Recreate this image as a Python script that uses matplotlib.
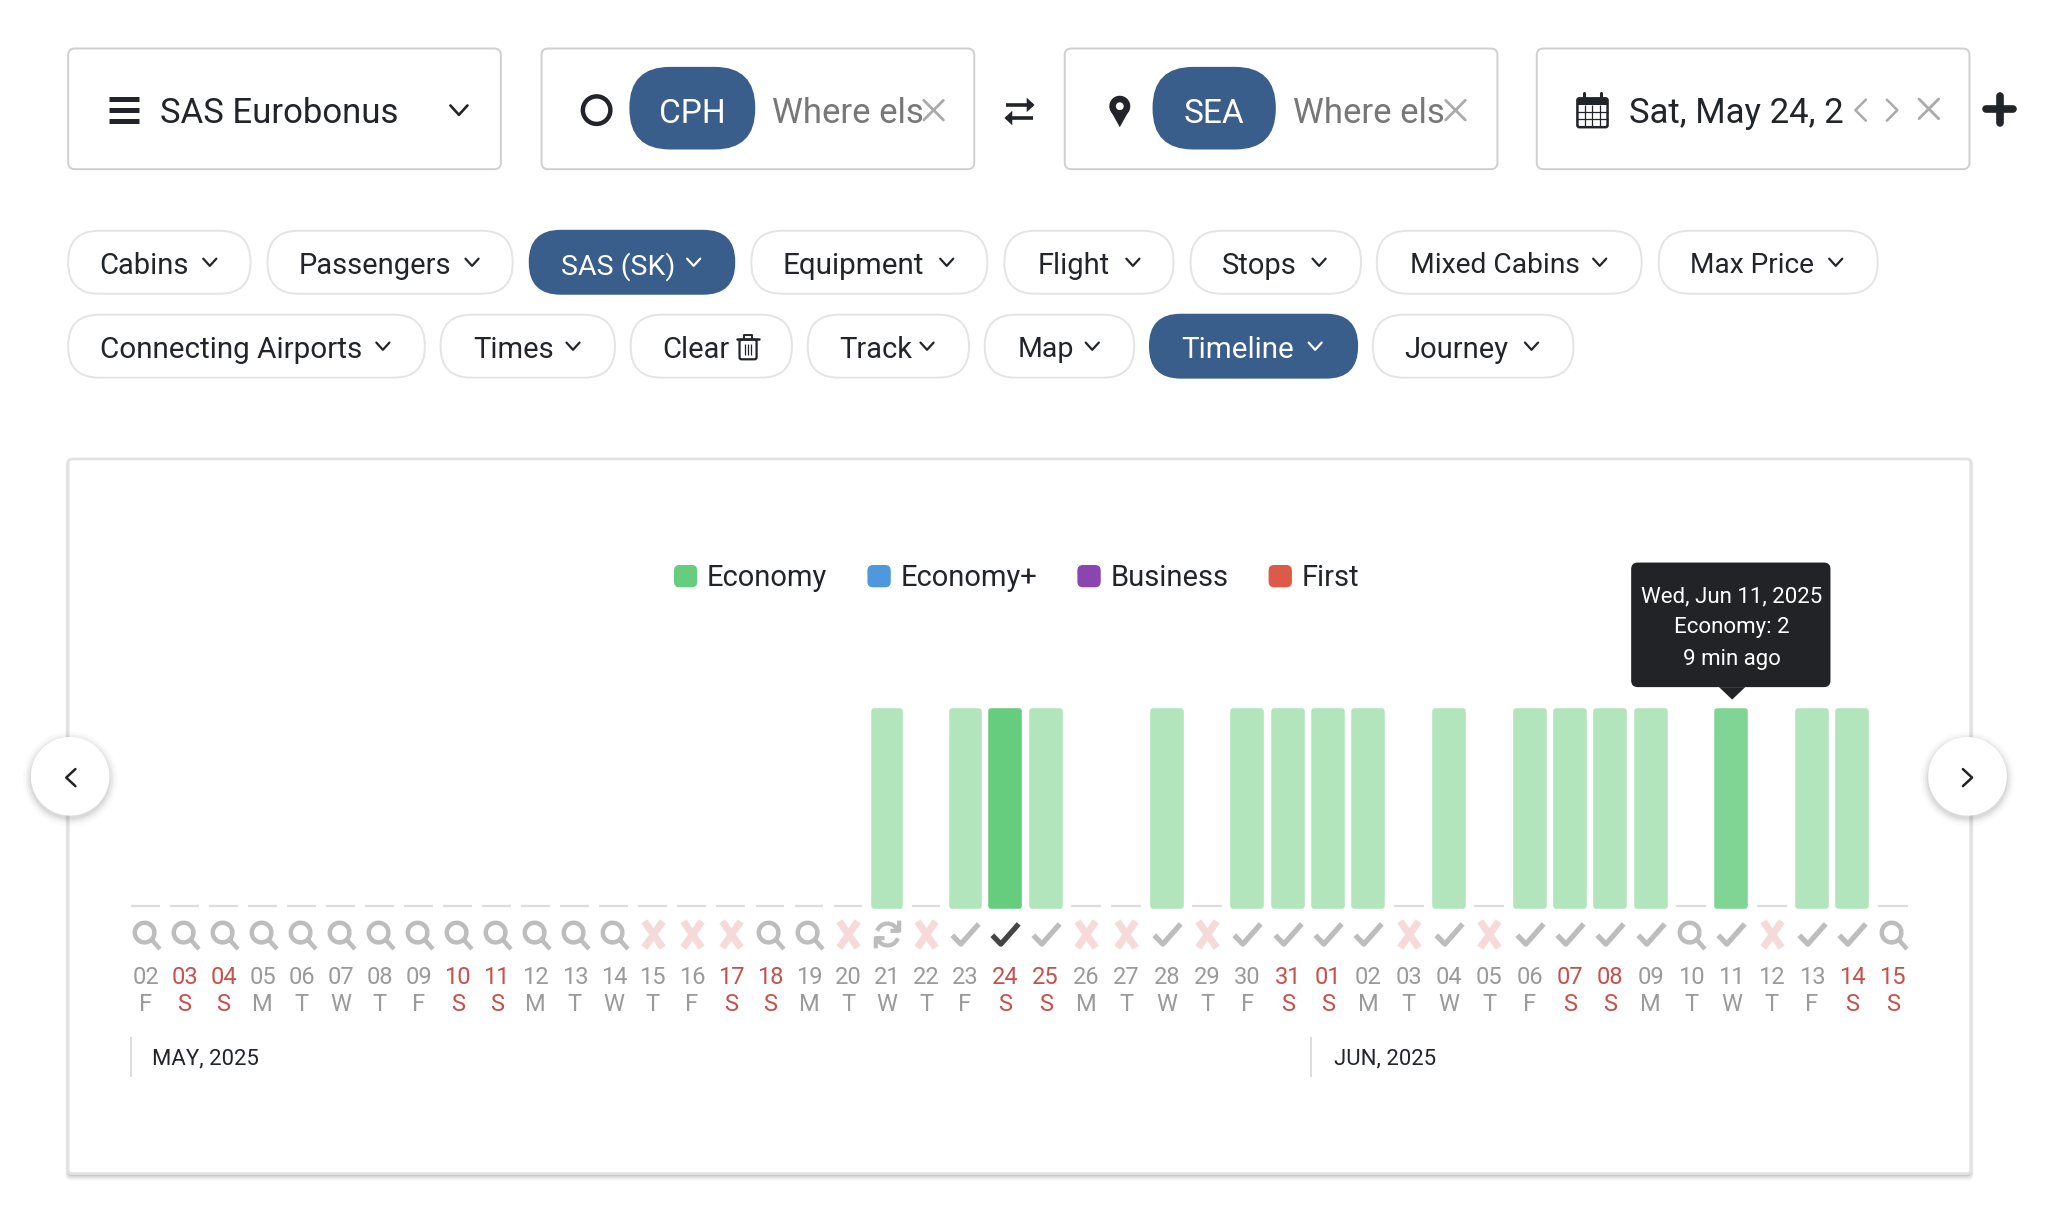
import numpy as np
import matplotlib
matplotlib.use("Agg")
import matplotlib.pyplot as plt
from matplotlib.patches import FancyBboxPatch, Circle, Polygon, Rectangle, Patch
from matplotlib.path import Path
from matplotlib.legend_handler import HandlerPatch

# ---------- data ----------
days = ["02","03","04","05","06","07","08","09","10","11","12","13","14","15","16","17","18","19","20","21","22","23",
        "24","25","26","27","28","29","30","31","01","02","03","04","05","06","07","08","09","10","11","12","13","14","15"]
weekdays = list("FSSMTWTFSSMTWTFSSMTWTFSSMTWTFSSMTWTFSSMTWTFSS")
economy = [0,0,0,0,0,0,0,0,0,0,0,0,0,0,0,0,0,0,0,1,0,1,
           1,1,0,0,1,0,1,1,1,1,0,1,0,1,1,1,1,0,1,0,1,1,0]
status = list("qqqqqqqqqqqqqxxxqqxrxc" "Ccxxcxccccxcxccccqcxccq")
cabins = ["Economy", "Economy+", "Business", "First"]
cabin_colors = ["#66CC7E", "#4F98DB", "#8A46AE", "#DE5A48"]
month_labels = ["MAY, 2025", "JUN, 2025"]
selected_day = 22
hover_day = 40
tooltip_lines = ["Wed, Jun 11, 2025", "Economy: 2", "9 min ago"]

W, H = 1568.0, 938.0   # layout units
FONT = "Roboto"
plt.rcParams["font.family"] = [FONT, "DejaVu Sans"]
fig = plt.figure(figsize=(20.56, 12.30), dpi=100, facecolor="white")
INK, BLUE = "#212529", "#3A5E8C"

def overlay(z):
    a = fig.add_axes([0, 0, 1, 1], zorder=z)
    a.set_xlim(0, W); a.set_ylim(H, 0); a.axis("off"); a.patch.set_alpha(0)
    return a

ui = overlay(0)
top = overlay(5)

def rbox(a, x0, y0, x1, y1, r, fc="white", ec="none", lw=1.0, alpha=None, z=2):
    p = FancyBboxPatch((x0, y0), x1-x0, y1-y0, boxstyle=f"round,pad=0,rounding_size={r}",
                       fc=fc, ec=ec, lw=lw, alpha=alpha, zorder=z)
    a.add_patch(p)
    return p

def txt(a, x, y, s, size, color=INK, ha="left", z=4):
    return a.text(x, y, s, fontsize=size, color=color, ha=ha, va="center_baseline", zorder=z)

def stroke(a, xs, ys, color=INK, lw=2.0, z=4, cap="round"):
    a.plot(xs, ys, color=color, lw=lw, solid_capstyle=cap, solid_joinstyle="round", zorder=z)

def chevron(a, x, y, color=INK, s=5.0, lw=1.6):
    stroke(a, [x-s, x, x+s], [y-s*0.55, y+s*0.55, y-s*0.55], color=color, lw=lw)

def cross(a, x, y, s=7.5, color="#AAAAAA", lw=1.8):
    stroke(a, [x-s, x+s], [y-s, y+s], color, lw)
    stroke(a, [x-s, x+s], [y+s, y-s], color, lw)

# ---------- top row ----------
for x0, x1 in [(52, 382), (413, 743), (812, 1142), (1172, 1502)]:
    rbox(ui, x0, 37, x1, 129, 5, fc="white", ec="#CFCFCF", lw=1.4)

for yy in (75.5, 84, 92.5):
    stroke(ui, [83, 106], [yy, yy], INK, 3.6, cap="butt")
txt(ui, 122, 84, "SAS Eurobonus", 25)
chevron(ui, 350, 84, s=6.5, lw=1.9)

ui.add_patch(Circle((455, 84), 10.5, fc="none", ec=INK, lw=3.2, zorder=4))
rbox(ui, 480, 51, 576, 114, 31, fc=BLUE)
txt(ui, 528, 84, "CPH", 24, "white", "center")
txt(ui, 589, 84, "Where els", 25, "#777777")
cross(ui, 712, 84, 7.5, "#AAAAAA", 2.0)

stroke(ui, [767, 788], [80, 80], INK, 2.6, cap="butt")
ui.add_patch(Polygon([[783, 74.5], [789, 80], [783, 85.5]], fc=INK, zorder=4))
stroke(ui, [767, 788], [90, 90], INK, 2.6, cap="butt")
ui.add_patch(Polygon([[772, 84.5], [766, 90], [772, 95.5]], fc=INK, zorder=4))

ui.add_patch(Circle((854, 81), 8, fc=INK, zorder=4))
ui.add_patch(Polygon([[846.8, 84], [861.2, 84], [854, 97]], fc=INK, zorder=4))
ui.add_patch(Circle((854, 81), 3, fc="white", zorder=5))
rbox(ui, 879, 51, 973, 114, 31, fc=BLUE)
txt(ui, 926, 84, "SEA", 24, "white", "center")
txt(ui, 986, 84, "Where els", 25, "#777777")
cross(ui, 1110, 84, 7.5, "#AAAAAA", 2.0)

# calendar
rbox(ui, 1203, 75, 1226, 97, 1.5, fc="white", ec=INK, lw=1.8, z=4)
ui.add_patch(Rectangle((1203, 75), 23, 5, fc=INK, zorder=4))
for gx in (1208.7, 1214.5, 1220.2):
    stroke(ui, [gx, gx], [80, 97], INK, 0.9, cap="butt")
for gy in (85.5, 91):
    stroke(ui, [1203, 1226], [gy, gy], INK, 0.9, cap="butt")
for gx in (1208, 1221):
    stroke(ui, [gx, gx], [71, 78], INK, 2.2)
dt = txt(ui, 1242, 84, "Sat, May 24, 2025", 25)
dt.set_clip_on(True)
dt.set_clip_path(Rectangle((1230, 50), 177, 70, transform=ui.transData))
stroke(ui, [1423, 1415, 1423], [76, 84, 92], "#AAAAAA", 1.8)
stroke(ui, [1439, 1447, 1439], [76, 84, 92], "#AAAAAA", 1.8)
cross(ui, 1471, 83, 7.5, "#AAAAAA", 2.0)
stroke(ui, [1514.5, 1535.5], [83.5, 83.5], INK, 5.5, cap="round")
stroke(ui, [1525, 1525], [73, 94], INK, 5.5, cap="round")

# ---------- filter pills ----------
pills_row1 = [("Cabins", 52, 191, 76, 160, False, 21), ("Passengers", 204, 391, 228, 360, False, 21),
              ("SAS (SK)", 404, 560, 428, 529, True, 20.5), ("Equipment", 573, 753, 597, 722, False, 21.3),
              ("Flight", 766, 895, 791, 864, False, 21), ("Stops", 908, 1038, 932, 1006, False, 21),
              ("Mixed Cabins", 1050, 1252, 1075, 1220, False, 20.3), ("Max Price", 1265, 1432, 1289, 1400, False, 20.2)]
pills_row2 = [("Connecting Airports", 52, 324, 76, 292, False, 21.3), ("Times", 336, 469, 361, 437, False, 21),
              ("Clear", 481, 604, 505, None, False, 21), ("Track", 616, 739, 640, 707, False, 21),
              ("Map", 751, 865, 776, 833, False, 20.5), ("Timeline", 877, 1035, 901, 1003, True, 21.3),
              ("Journey", 1047, 1200, 1071, 1168, False, 21)]
for (y0, y1), row in (((176, 224), pills_row1), ((240, 288), pills_row2)):
    ym = (y0 + y1) / 2
    for name, x0, x1, tx, cx, on, fs in row:
        rbox(ui, x0, y0, x1, y1, 23.5, fc=BLUE if on else "white",
             ec=BLUE if on else "#E4E4E4", lw=1.4)
        txt(ui, tx, ym + 0.5, name, fs, "white" if on else INK)
        if cx is not None:
            chevron(ui, cx, ym, "white" if on else INK)

# trash
rbox(ui, 564, 259, 577, 274, 1.5, fc="white", ec=INK, lw=1.6, z=4)
stroke(ui, [562, 579], [258.5, 258.5], INK, 1.8)
stroke(ui, [567.5, 567.5, 573.5, 573.5], [258, 255.5, 255.5, 258], INK, 1.4)
for gx in (568, 570.5, 573):
    stroke(ui, [gx, gx], [262, 271], INK, 0.9, cap="butt")

# ---------- panel ----------
for off, al in ((5, .05), (3.5, .07), (2, .10)):
    rbox(ui, 52 - off*.4, 350, 1503 + off*.4, 895 + off, 4, fc="black", alpha=al, z=1)
rbox(ui, 52, 350, 1503, 895, 3, fc="white", ec="#E2E2E2", lw=2.0, z=1.5)

# ---------- chart ----------
knots_idx = [-1, 21, 45]
knots_pos = [81.24, 736.0, 1474.2]
forward = lambda v: np.interp(v, knots_idx, knots_pos)
inverse = lambda v: np.interp(v, knots_pos, knots_idx)
base_y, top_y = 691.0, 542.0
ax = fig.add_axes([knots_pos[0]/W, 1-base_y/H, (knots_pos[-1]-knots_pos[0])/W, (base_y-top_y)/H], zorder=2)
ax.patch.set_alpha(0)
ax.set_xscale("function", functions=(forward, inverse))
ax.set_xlim(-1, 45); ax.set_ylim(0, 1)
for s in ax.spines.values():
    s.set_visible(False)
ax.yaxis.set_visible(False)

idx = np.arange(len(days))
values = np.array(economy)
shade = {selected_day: "#66CC7E", hover_day: "#80D494"}
colors = [shade.get(i, "#B2E5BC") for i in idx]
has = values > 0
ax.bar(idx[has], values[has], width=0.69, color=[c for c, h in zip(colors, has) if h],
       edgecolor=[c for c, h in zip(colors, has) if h], linewidth=4.0, joinstyle="round",
       clip_on=False, zorder=3)
ax.hlines(np.zeros((~has).sum()), idx[~has]-0.37, idx[~has]+0.37, color="#DDDDDD", lw=1.6, clip_on=False)

ax.set_xticks(idx)
ax.set_xticks([], minor=True)
ax.set_xticklabels([f"{d}\n{w}" for d, w in zip(days, weekdays)], fontsize=17, linespacing=1.23)
ax.tick_params(axis="x", length=0, pad=43)
for t, w in zip(ax.get_xticklabels(), weekdays):
    t.set_color("#C9504A" if w == "S" else "#9A9A9A")

# status icon markers
theta = np.linspace(0, 2*np.pi, 40)
circ = np.c_[0.62*np.cos(theta)-0.12, 0.62*np.sin(theta)+0.12]
q_path = Path(np.vstack([circ, [[0.32, -0.32], [0.85, -0.92]]]),
              [Path.MOVETO]+[Path.LINETO]*39+[Path.MOVETO, Path.LINETO])
x_path = Path([[-.5, -.72], [.5, .72], [-.5, .72], [.5, -.72]],
              [Path.MOVETO, Path.LINETO, Path.MOVETO, Path.LINETO])
c_path = Path([[-.85, -.05], [-.3, -.62], [.85, .68]], [Path.MOVETO, Path.LINETO, Path.LINETO])
a1 = np.linspace(np.radians(20), np.radians(160), 16)
a2 = a1 + np.pi
r_verts = np.vstack([np.c_[.75*np.cos(a1), .75*np.sin(a1)], [[.8, .95], [.8, .25], [.2, .25]],
                     np.c_[.75*np.cos(a2), .75*np.sin(a2)], [[-.8, -.95], [-.8, -.25], [-.2, -.25]]])
r_codes = ([Path.MOVETO]+[Path.LINETO]*15+[Path.MOVETO, Path.LINETO, Path.LINETO])*2
r_path = Path(r_verts, r_codes)
styles = {"q": (q_path, "#BDBDBD", 3.2, 21), "x": (x_path, "#F6D9D9", 5.2, 19),
          "c": (c_path, "#BDBDBD", 3.8, 19), "C": (c_path, "#444444", 3.8, 19),
          "r": (r_path, "#BDBDBD", 3.0, 20)}
trans = ax.get_xaxis_transform()
icon_y = (base_y - 712.0) / (base_y - top_y)
for key, (pth, col, lw, ms) in styles.items():
    sel = [i for i, s in zip(idx, status) if s == key]
    ax.plot(sel, [icon_y]*len(sel), ls="none", marker=pth, ms=ms, mfc="none", mec=col, mew=lw,
            transform=trans, clip_on=False)

# legend
def rounded_handle(legend, orig_handle, xdescent, ydescent, width, height, fontsize):
    return FancyBboxPatch((-xdescent + 4, -ydescent + 4), width - 8, height - 8,
                          boxstyle="round,pad=4,rounding_size=4")
handles = [Patch(fc=c, ec="none", label=n) for n, c in zip(cabins, cabin_colors)]
leg = fig.legend(handles=handles, ncol=4, loc="center left", bbox_to_anchor=(514/W, 1-441/H),
                 frameon=False, fontsize=21, handlelength=0.80, handleheight=0.80, handletextpad=0.33,
                 columnspacing=1.38, borderpad=0, borderaxespad=0,
                 handler_map={Patch: HandlerPatch(patch_func=rounded_handle)})
for t in leg.get_texts():
    t.set_color(INK)

# month markers
for xm, tx, lab in zip((100, 1000), (116, 1017), month_labels):
    stroke(ui, [xm, xm], [791, 821], "#DDDDDD", 1.4, z=3, cap="butt")
    txt(ui, tx, 806, lab, 15.9)

# ---------- tooltip and nav ----------
rbox(top, 1244, 429, 1396, 524, 5, fc="#212326")
top.add_patch(Polygon([[1311, 524], [1331, 524], [1321, 533.5]], fc="#212326", zorder=3))
for yy, line in zip((453, 477, 501), tooltip_lines):
    txt(top, 1320.5, yy, line, 16, "white", "center")

for cx in (53.5, 1500.5):
    for r, al in ((36, .02), (34, .03), (32.5, .04), (31, .06)):
        top.add_patch(Circle((cx, 594), r, fc="black", alpha=al, ec="none", zorder=2))
    top.add_patch(Circle((cx, 592), 30, fc="white", ec="none", zorder=3))
stroke(top, [57.5, 50.5, 57.5], [586.5, 593, 599.5], "#222222", 1.8)
stroke(top, [1497, 1504, 1497], [586.5, 593, 599.5], "#222222", 1.8)

fig.savefig("out.png", dpi=100, facecolor="white")
